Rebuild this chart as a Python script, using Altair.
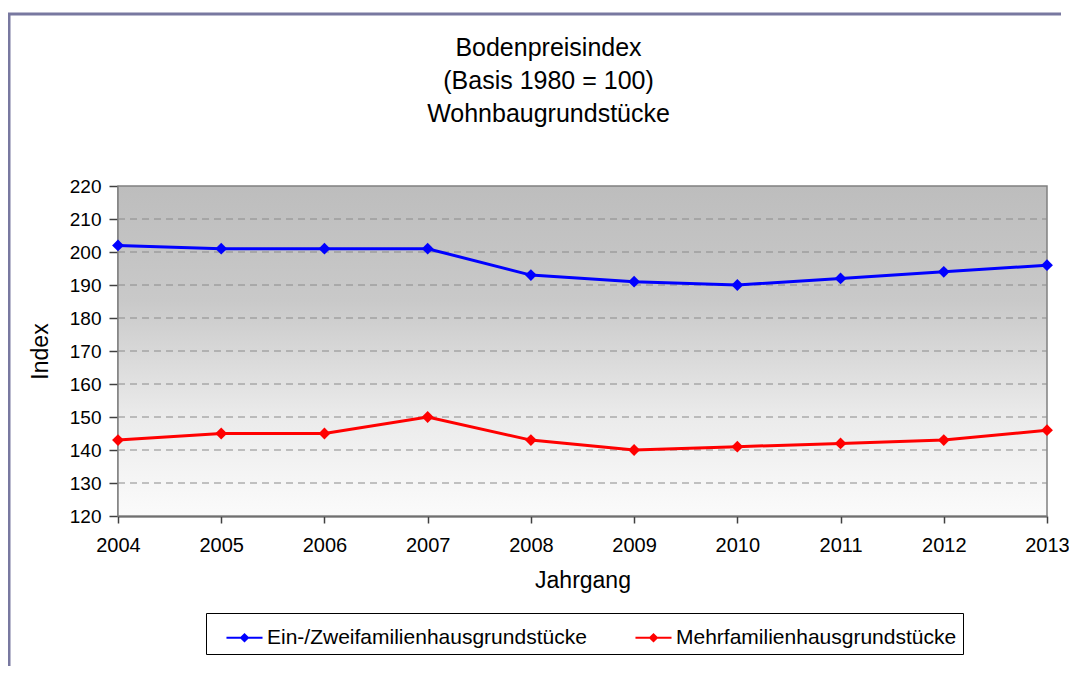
import altair as alt
import pandas as pd

YEARS = [2004, 2005, 2006, 2007, 2008, 2009, 2010, 2011, 2012, 2013]
EIN_ZWEI = [202, 201, 201, 201, 193, 191, 190, 192, 194, 196]
MEHR = [143, 145, 145, 150, 143, 140, 141, 142, 143, 146]
SERIES = ["Ein-/Zweifamilienhausgrundstücke", "Mehrfamilienhausgrundstücke"]
COLORS = ["#0000ff", "#ff0000"]
Y_TICKS = [120, 130, 140, 150, 160, 170, 180, 190, 200, 210, 220]
GRID_VALUES = [130, 140, 150, 160, 170, 180, 190, 200, 210]

FONT = "Liberation Sans"

rows = []
for y, v in zip(YEARS, EIN_ZWEI):
    rows.append({"Jahr": y, "Index": v, "Serie": SERIES[0]})
for y, v in zip(YEARS, MEHR):
    rows.append({"Jahr": y, "Index": v, "Serie": SERIES[1]})
df = pd.DataFrame(rows)

x_scale = alt.Scale(domain=[YEARS[0], YEARS[-1]], nice=False, zero=False)
y_scale = alt.Scale(domain=[Y_TICKS[0], Y_TICKS[-1]], nice=False, zero=False)

x_axis = alt.Axis(
    values=YEARS, format="d", title="Jahrgang", grid=False, labelFlush=False,
    tickSize=7, labelPadding=12, titlePadding=14,
)
y_axis = alt.Axis(
    values=Y_TICKS, title="Index", grid=False,
    tickSize=9, labelPadding=8, titlePadding=17,
)

SYMBOL_PATH = (
    "M-1,-0.055L1,-0.055L1,0.055L-1,0.055Z "
    "M0,-0.27L0.27,0L0,0.27L-0.27,0Z"
)
legend = alt.Legend(
    title=None,
    orient="none",
    legendX=88,
    legendY=427,
    direction="horizontal",
    symbolType=SYMBOL_PATH,
    symbolSize=1300,
    symbolStrokeWidth=0,
    symbolOpacity=1,
    labelFontSize=21,
    labelFont=FONT,
    labelColor="#000000",
    labelOffset=4,
    labelLimit=500,
    columnPadding=34,
    padding=6,
    strokeColor="#000000",
    fillColor="#ffffff",
    symbolOffset=14,
)
color_scale = alt.Scale(domain=SERIES, range=COLORS)

# gradient background of the plot area
bg = alt.Chart(pd.DataFrame({"a": [0]})).mark_rect(
    fill=alt.Gradient(
        gradient="linear",
        stops=[
            alt.GradientStop(color="#bdbdbd", offset=0),
            alt.GradientStop(color="#c9c9c9", offset=0.35),
            alt.GradientStop(color="#ebebeb", offset=0.7),
            alt.GradientStop(color="#fbfbfb", offset=1),
        ],
        x1=0, x2=0, y1=0, y2=1,
    ),
    stroke="#808080",
    strokeWidth=1.5,
).encode(
    x=alt.value(0), x2=alt.value("width"), y=alt.value(0), y2=alt.value("height")
)

grid = alt.Chart(pd.DataFrame({"Index": GRID_VALUES})).mark_rule(
    color="#8a8a8a", strokeDash=[7, 5], strokeWidth=1
).encode(
    y=alt.Y("Index:Q", scale=y_scale, axis=y_axis),
    x=alt.value(0),
    x2=alt.value("width"),
)

base = alt.Chart(df)

lines = base.mark_line(strokeWidth=3).encode(
    x=alt.X("Jahr:Q", scale=x_scale, axis=x_axis),
    y=alt.Y("Index:Q", scale=y_scale, axis=y_axis),
    color=alt.Color("Serie:N", scale=color_scale, legend=legend),
)

points = base.mark_point(filled=True, shape="diamond", size=140, opacity=1).encode(
    x=alt.X("Jahr:Q", scale=x_scale, axis=x_axis),
    y=alt.Y("Index:Q", scale=y_scale, axis=y_axis),
    color=alt.Color("Serie:N", scale=color_scale, legend=legend),
)

frame_top = alt.Chart(pd.DataFrame({"a": [0]})).mark_rule(
    color="#7878a0", strokeWidth=3
).encode(x=alt.value(-110), x2=alt.value(943), y=alt.value(-172))
frame_left = alt.Chart(pd.DataFrame({"a": [0]})).mark_rule(
    color="#7878a0", strokeWidth=3
).encode(x=alt.value(-109), y=alt.value(-172), y2=alt.value(500))

chart = alt.layer(frame_top, frame_left, bg, grid, lines, points).properties(
    width=929,
    height=330,
    background="#ffffff",
    autosize=alt.AutoSizeParams(type="none"),
    padding={"left": 110, "top": 178, "right": 22, "bottom": 150},
    title=alt.TitleParams(
        ["Bodenpreisindex", "(Basis 1980 = 100)", "Wohnbaugrundstücke"],
        fontSize=25,
        font=FONT,
        fontWeight="normal",
        lineHeight=33,
        anchor="middle",
        frame="group",
        dx=-34,
        offset=-114,
        color="#000000",
    ),
).configure_view(
    stroke=None
).configure_axis(
    labelFont=FONT,
    titleFont=FONT,
    labelFontSize=19,
    titleFontSize=23,
    titleFontWeight="normal",
    labelColor="#000000",
    titleColor="#000000",
    domainColor="#404040",
    domainWidth=2,
    tickColor="#404040",
    tickWidth=1.5,
).configure_axisX(
    labelFontSize=20
)

chart.save("out.html", embed_options={"renderer": "svg", "actions": False})
